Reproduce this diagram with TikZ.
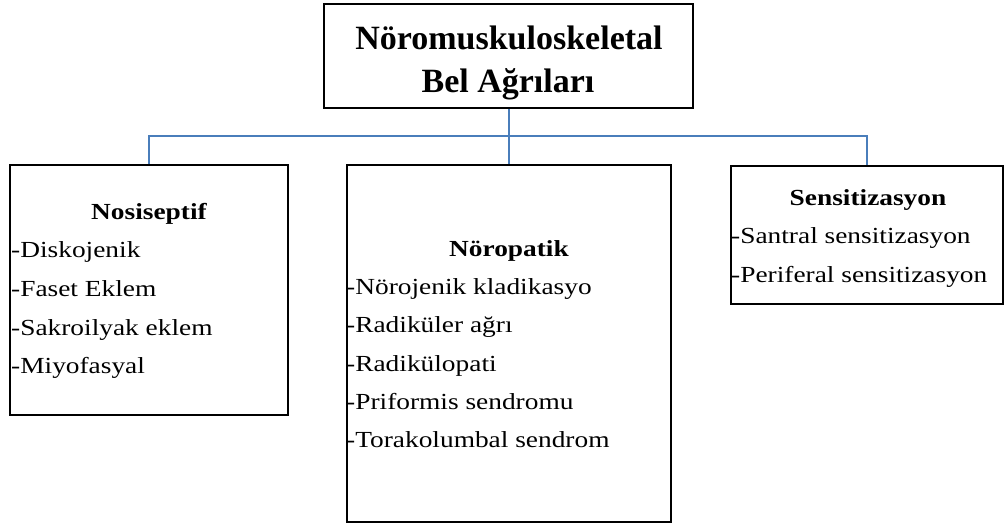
\documentclass[tikz,border=0pt]{standalone}
\usepackage{fontspec}
\setmainfont{Liberation Serif}
\newfontfamily\bodyfont{Liberation Serif}[FakeStretch=1.19]
\definecolor{linkblue}{RGB}{74,126,187}
\begin{document}
\begin{tikzpicture}[x=1pt,y=-1pt,
  box/.style={draw=black,line width=2pt,rectangle,inner sep=0pt},
  link/.style={draw=linkblue,line width=2pt},
  head/.style={anchor=base,inner sep=0pt,font=\bodyfont\fontsize{23}{27}\selectfont\bfseries},
  item/.style={anchor=base west,inner sep=0pt,font=\bodyfont\fontsize{23}{27}\selectfont},
  title/.style={anchor=base,inner sep=0pt,font=\fontsize{34}{40}\selectfont\bfseries}]
\useasboundingbox (0,0) rectangle (1004,525);
% boxes
\node[box,minimum width=369pt,minimum height=104pt] (top) at (508.5,56) {};
\node[box,minimum width=278pt,minimum height=250pt] (left) at (149,290) {};
\node[box,minimum width=324pt,minimum height=357pt] (mid) at (508.5,343.5) {};
\node[box,minimum width=272pt,minimum height=138pt] (right) at (867,235) {};
% title
\node[title] (t1) at (509,49.5) {Nöromuskuloskeletal};
\node[title] (t2) at (508,92) {Bel Ağrıları};
% left
\node[head] (lh) at (149,219.5) {Nosiseptif};
\node[item] (l1) at (11,257.5) {-Diskojenik};
\node[item] (l2) at (11,296.5) {-Faset Eklem};
\node[item] (l3) at (11,335) {-Sakroilyak eklem};
\node[item] (l4) at (11,373.5) {-Miyofasyal};
% middle
\node[head] (mh) at (509,256) {Nöropatik};
\node[item] (m1) at (346,294) {-Nörojenik kladikasyo};
\node[item] (m2) at (346,332.5) {-Radiküler ağrı};
\node[item] (m3) at (346,371) {-Radikülopati};
\node[item] (m4) at (346,409.5) {-Priformis sendromu};
\node[item] (m5) at (346,447.5) {-Torakolumbal sendrom};
% right
\node[head] (rh) at (868,205) {Sensitizasyon};
\node[item] (r1) at (731,243.5) {-Santral sensitizasyon};
\node[item] (r2) at (731,282) {-Periferal sensitizasyon};
% connectors
\draw[link] (top.south) -- (mid.north);
\draw[link] (left.north) -- ++(0,-28) -| (right.north);
\end{tikzpicture}
\end{document}
